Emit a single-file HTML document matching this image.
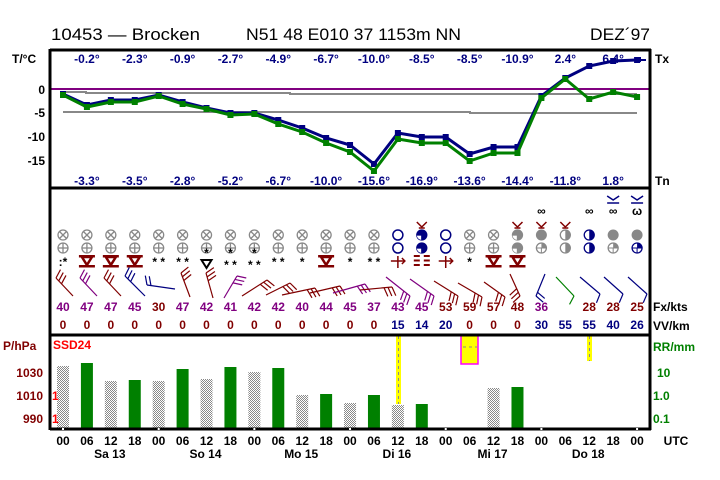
<!DOCTYPE html>
<html><head><meta charset="utf-8">
<style>
html,body{margin:0;padding:0;background:#fff;}
svg{display:block;font-family:"Liberation Sans",Arial,sans-serif;}
.b{font-weight:bold;font-size:12px;}
</style></head>
<body>
<svg id="s" width="720" height="480" viewBox="0 0 720 480" xmlns="http://www.w3.org/2000/svg">
<defs>
<pattern id="chk" width="2" height="2" patternUnits="userSpaceOnUse">
<rect width="2" height="2" fill="#fff"/><rect width="1" height="1" fill="#888"/><rect x="1" y="1" width="1" height="1" fill="#888"/>
</pattern>
</defs>
<rect width="720" height="480" fill="#fff"/>
<text x="51" y="40" font-size="17" textLength="149" lengthAdjust="spacingAndGlyphs">10453 — Brocken</text>
<text x="246" y="40" font-size="17" textLength="215" lengthAdjust="spacingAndGlyphs">N51 48 E010 37 1153m NN</text>
<text x="590" y="40" font-size="17" textLength="60" lengthAdjust="spacingAndGlyphs">DEZ´97</text>
<g id="g"></g>
</svg>
<script>
var g=document.getElementById('g'),h='';
function X(i){return 63+23.92*i;}
function T(x,y,t,c,a,cls,fs){h+='<text x="'+x+'" y="'+y+'" fill="'+(c||'#000')+'" text-anchor="'+(a||'start')+'" class="'+(cls||'b')+'"'+(fs?' font-size="'+fs+'"':'')+'>'+t+'</text>';}
function L(x1,y1,x2,y2,c,w,extra){h+='<line x1="'+x1+'" y1="'+y1+'" x2="'+x2+'" y2="'+y2+'" stroke="'+c+'" stroke-width="'+(w||1)+'" '+(extra||'')+'/>';}
L(50,89,650,89,'#800080',2);
h+='<polyline points="63,92 86,92 86,93 290,93 290,94 637,94" fill="none" stroke="#888" stroke-width="2"/>';
h+='<polyline points="63,112 470,112 470,113 637,113" fill="none" stroke="#888" stroke-width="2"/>';
var bl=[94,105,100,100,95,102,108,113,113,120,128,138,145,164,133,137,137,154,147,147,96,78,66,61,60];
var gr=[95,107,102,102,96,104,109,115,114,124,132,143,152,171,139,143,143,161,153,153,98,79,99,92,97];
function PL(a,c){var p=a.map(function(y,i){return X(i).toFixed(1)+','+y;}).join(' ');h+='<polyline points="'+p+'" fill="none" stroke="'+c+'" stroke-width="3"/>';a.forEach(function(y,i){h+='<rect x="'+(X(i)-3)+'" y="'+(y-3)+'" width="6" height="6" fill="'+c+'"/>';});}
PL(bl,'#000080');PL(gr,'#008000');
L(637,60,646,60,'#000080',2);h+='<rect x="636" y="57" width="5" height="5" fill="#000080"/>';
var tx=['-0.2°','-2.3°','-0.9°','-2.7°','-4.9°','-6.7°','-10.0°','-8.5°','-8.5°','-10.9°','2.4°','6.4°'];
var tn=['-3.3°','-3.5°','-2.8°','-5.2°','-6.7°','-10.0°','-15.6°','-16.9°','-13.6°','-14.4°','-11.8°','1.8°'];
for(var k=0;k<12;k++){T(X(1+2*k),63,tx[k],'#000080','middle');T(X(1+2*k),185,tn[k],'#000080','middle');}
T(12,63,'T/°C');T(45,94,'0','#000','end');T(45,117,'-5','#000','end');T(45,141,'-10','#000','end');T(45,165,'-15','#000','end');
T(655,63,'Tx');T(655,185,'Tn');
var fx=['40','47','47','45','30','47','42','41','42','42','40','44','45','37','43','45','53','59','57','48','36','','28','28','25'];
var fc='PPPPRPPPPPPPPPPPRRRRPRRRR';
var vv=[0,0,0,0,0,0,0,0,0,0,0,0,0,0,15,14,20,0,0,0,30,55,55,40,26];
for(var i=0;i<25;i++){T(X(i),311,fx[i],fc[i]=='P'?'#800080':'#800000','middle');T(X(i),329,vv[i],vv[i]?'#000080':'#800000','middle');}
T(653,311,'Fx/kts');T(653,330,'VV/km');
function circ(x,y,type,c){
 var r=5;
 if(type=='x'){h+='<circle cx="'+x+'" cy="'+y+'" r="'+r+'" fill="none" stroke="'+c+'" stroke-width="1.3"/>';L(x-3.5,y-3.5,x+3.5,y+3.5,c,1.3);L(x-3.5,y+3.5,x+3.5,y-3.5,c,1.3);}
 else if(type=='p'){h+='<circle cx="'+x+'" cy="'+y+'" r="'+r+'" fill="none" stroke="'+c+'" stroke-width="1.3"/>';L(x-5,y,x+5,y,c,1.3);L(x,y-5,x,y+5,c,1.3);}
 else if(type=='o'){h+='<circle cx="'+x+'" cy="'+y+'" r="'+r+'" fill="none" stroke="'+c+'" stroke-width="1.5"/>';}
 else if(type=='f'){h+='<circle cx="'+x+'" cy="'+y+'" r="'+(r+0.5)+'" fill="'+c+'"/>';}
 else if(type=='q3'){h+='<circle cx="'+x+'" cy="'+y+'" r="'+r+'" fill="'+c+'" stroke="'+c+'" stroke-width="1.3"/><path d="M'+x+','+y+' L'+x+','+(y+r)+' A'+r+','+r+' 0 0 1 '+(x-r)+','+y+' Z" fill="#fff"/>';L(x-r,y,x,y,c,1.3);L(x,y,x,y+r,c,1.3);}
 else if(type=='h'){h+='<circle cx="'+x+'" cy="'+y+'" r="'+r+'" fill="#fff" stroke="'+c+'" stroke-width="1.3"/><path d="M'+x+','+(y-r)+' A'+r+','+r+' 0 0 1 '+x+','+(y+r)+' Z" fill="'+c+'"/>';}
 else if(type=='q1'){h+='<circle cx="'+x+'" cy="'+y+'" r="'+r+'" fill="#fff" stroke="'+c+'" stroke-width="1.3"/><path d="M'+x+','+y+' L'+x+','+(y-r)+' A'+r+','+r+' 0 0 1 '+(x+r)+','+y+' Z" fill="'+c+'"/>';L(x-r,y,x+r,y,c,1);L(x,y,x,y+r,c,1);}
}
var G='#888',N='#000080',R='#800000';
var up=[],lo=[];
for(var i=0;i<14;i++){up[i]=['x',G];lo[i]=['p',G];}
up[14]=['o',N];lo[14]=['o',N];up[15]=['q3',N];lo[15]=['q3',N];up[16]=['o',N];lo[16]=['o',N];
up[17]=['x',G];lo[17]=['p',G];up[18]=['x',G];lo[18]=['p',G];up[19]=['q3',G];lo[19]=['q3',G];
up[20]=['f',G];lo[20]=['q1',G];up[21]=['h',G];lo[21]=['h',G];up[22]=['h',N];lo[22]=['h',N];
up[23]=['f',G];lo[23]=['q1',G];up[24]=['f',G];lo[24]=['q1',N];
for(var i=0;i<25;i++){circ(X(i),235,up[i][0],up[i][1]);circ(X(i),248,lo[i][0],lo[i][1]);}
[15,19,20,21].forEach(function(i){var x=X(i);h+='<polyline points="'+(x-5)+',222 '+x+',227 '+(x+5)+',222" fill="none" stroke="'+R+'" stroke-width="1.5"/>';L(x-3,228,x+3,228,R,1.5);});
[20,22,23].forEach(function(i){T(X(i),215,'&#x221E;','#000','middle','b',14);});
T(X(24),215,'ω','#000','middle','b',13);
[23,24].forEach(function(i){var x=X(i);h+='<polyline points="'+(x-6)+',196 '+x+',200 '+(x+6)+',196" fill="none" stroke="'+N+'" stroke-width="1.5"/>';L(x-6,203,x+6,203,N,1.5);});
function snowsh(x,c){h+='<rect x="'+(x-8)+'" y="255" width="16" height="2.5" fill="'+c+'"/><rect x="'+(x-8)+'" y="265" width="16" height="2.5" fill="'+c+'"/><polygon points="'+(x-5)+',257 '+(x+5)+',257 '+x+',265" fill="none" stroke="'+c+'" stroke-width="2.5"/>';}
var wx={0:':*',4:'**',5:'**',9:'**',10:'*',12:'*',13:'**',17:'*'};
for(var k in wx){T(X(+k),266,wx[k]=='**'?'* *':wx[k],'#000','middle','b',13);}
[1,2,3,11,18,19].forEach(function(i){snowsh(X(i),R);});
T(X(6),257,'*','#000','middle','b',11);h+='<polygon points="'+(X(6)-5)+',260 '+(X(6)+5)+',260 '+X(6)+',268" fill="none" stroke="#000" stroke-width="2"/>';
[7,8].forEach(function(i){T(X(i),257,'*','#000','middle','b',11);T(X(i),269,'* *','#000','middle','b',11);});
[14,16].forEach(function(i){var x=X(i);L(x-7,261,x+7,261,R,1.5);L(x,256,x,268,R,1.5);h+='<polyline points="'+(x+4)+',258 '+(x+7)+',261 '+(x+4)+',264" fill="none" stroke="'+R+'" stroke-width="1.5"/>';});
(function(x){for(var r=0;r<3;r++){var y=256+r*4.5;L(x-8,y,x-2,y,R,2);L(x+2,y,x+8,y,R,2);}})(X(15));
var P='#800080',Rd='#800000',Gn='#008000';
var wb=[[73,296,56,278,Rd,3],[97,296,80,278,P,3],[121,296,104,278,Rd,3],[145,296,125,276,N,3],[175,289,147,285,N,2],[190,297,181,273,Rd,3],[213,298,206,273,Rd,3],[224,298,237,276,P,3],[242,296,267,280,Rd,3],[266,295,290,283,Rd,3],[282,295,315,288,Rd,3],[310,293,340,286,Rd,3],[333,293,365,284,P,3],[360,290,392,287,Rd,3],[386,277,410,296,P,3],[410,279,434,296,P,3],[434,281,458,296,Rd,3],[458,283,482,297,Rd,3],[484,282,505,297,Rd,3],[510,274,520,296,Rd,3],[545,274,536,296,N,2],[556,277,574,296,Gn,1],[580,277,600,294,N,1],[604,277,623,294,N,1],[628,277,647,294,N,1]];
wb.forEach(function(w,idx){var dx=w[2]-w[0],dy=w[3]-w[1],len=Math.sqrt(dx*dx+dy*dy),ux=dx/len,uy=dy/len,px=-uy,py=ux;
 if(idx>=14&&idx<=19){if(px>0){px=-px;py=-py;}}else if(idx>=20){if(py<0){px=-px;py=-py;}}else{if(px<0){px=-px;py=-py;}}
 L(w[0],w[1],w[2],w[3],w[4],1.2);
 for(var b=0;b<w[5];b++){var sx=w[2]-ux*b*4,sy=w[3]-uy*b*4;L(sx,sy,sx+px*9+ux*3,sy+py*9+uy*3,w[4],1.2);}});
var bars=[[366,'c'],[363,'g'],[381,'c'],[380,'g'],[381,'c'],[369,'g'],[379,'c'],[367,'g'],[372,'c'],[368,'g'],[395,'c'],[394,'g'],[403,'c'],[395,'g'],[405,'c'],[404,'g'],null,null,[388,'c'],[387,'g']];
bars.forEach(function(b,i){if(!b)return;h+='<rect x="'+(X(i)-6)+'" y="'+b[0]+'" width="12" height="'+(429-b[0])+'" fill="'+(b[1]=='g'?'#008000':'url(#chk)')+'"/>';});
h+='<rect x="396" y="335" width="5" height="69" fill="#ff0"/>';L(398.5,336,398.5,404,'#888',1,'stroke-dasharray="3,3"');
h+='<rect x="461" y="335" width="17" height="29" fill="#ff0" stroke="#f0f" stroke-width="1.5"/>';L(463,347,477,347,'#888',1,'stroke-dasharray="3,3"');
h+='<rect x="587" y="335" width="5" height="26" fill="#ff0"/>';L(589.5,336,589.5,361,'#888',1,'stroke-dasharray="3,3"');
T(3,350,'P/hPa','#800000');T(53,349,'SSD24','#ff0000');T(653,351,'RR/mm','#008000');
T(43,377,'1030','#800000','end');T(43,400,'1010','#800000','end');T(43,423,'990','#800000','end');
T(52,400,'1','#ff0000');T(52,423,'1','#ff0000');
T(657,377,'10','#008000');T(653,400,'1.0','#008000');T(653,423,'0.1','#008000');
var hh=['00','06','12','18'];for(var i=0;i<25;i++){T(X(i),445,hh[i%4],'#000','middle');}
T(676,445,'UTC','#000','middle');
var days=['Sa 13','So 14','Mo 15','Di 16','Mi 17','Do 18'];days.forEach(function(d,k){T(X(2+4*k)-1,458,d,'#000','middle');});
L(50,50,651,50,'#000',3);L(50,49,50,430,'#000',3);L(650,49,650,430,'#000',3);
L(50,188,651,188,'#000',3);L(50,335,651,335,'#000',3);L(50,429,651,429,'#000',3);
for(var i=0;i<25;i+=4){L(X(i),428,X(i),430,'#fff',2);}
g.innerHTML=h;
</script>
</body></html>
